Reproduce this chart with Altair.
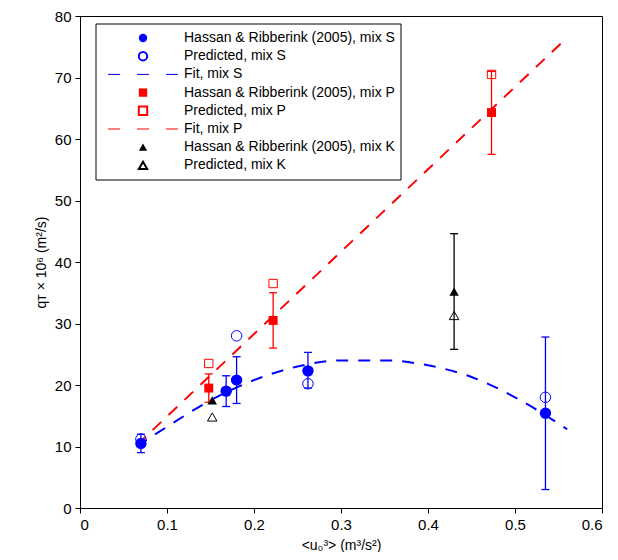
import altair as alt
import pandas as pd

# measured, mix S
s_x = [0.07, 0.168, 0.18, 0.262, 0.535]
s_y = [10.5, 19.0, 20.8, 22.3, 15.4]
s_lo = [9.0, 16.5, 17.0, 19.5, 3.0]
s_hi = [12.0, 21.5, 24.6, 25.3, 27.8]
# predicted, mix S
ps_x = [0.07, 0.18, 0.262, 0.535]
ps_y = [11.2, 28.0, 20.2, 18.0]
# measured, mix P
p_x = [0.148, 0.222, 0.473]
p_y = [19.5, 30.5, 64.3]
p_lo = [17.2, 26.0, 57.5]
p_hi = [21.8, 35.0, 71.0]
# predicted, mix P
pp_x = [0.148, 0.222, 0.473]
pp_y = [23.5, 36.5, 70.5]
# measured, mix K
k_x = [0.152, 0.43]
k_y = [17.5, 35.2]
k_lo = [17.5, 25.8]
k_hi = [17.5, 44.6]
# predicted, mix K
pk_x = [0.152, 0.43]
pk_y = [14.8, 31.3]
# fit curves
fs_x = [0.065, 0.1, 0.15, 0.2, 0.25, 0.3, 0.35, 0.4, 0.45, 0.5, 0.56]
fs_y = [10.0, 13.2, 17.5, 20.8, 23.0, 24.0, 24.0, 23.2, 21.3, 18.0, 12.8]
fp_x = [0.065, 0.56]
fp_y = [10.2, 76.5]

BLUE, RED = "#0000ff", "#ff0000"
DASH = [12, 10]
FONT = "Liberation Sans"
xs = alt.Scale(domain=[0, 0.6])
ys = alt.Scale(domain=[0, 80])
X = alt.X("x:Q", scale=xs, title="<u₀³> (m³/s²)",
          axis=alt.Axis(values=[0, 0.1, 0.2, 0.3, 0.4, 0.5, 0.6], format=".1~f", grid=False))
Y = alt.Y("y:Q", scale=ys, title="qᴛ × 10⁶ (m²/s)",
          axis=alt.Axis(values=list(range(0, 81, 10)), grid=False))


def df(x, y, **kw):
    d = pd.DataFrame({"x": x, "y": y})
    for k, v in kw.items():
        d[k] = v
    return d


def errbars(x, lo, hi, color):
    d = df(x, lo, hi=hi)
    rule = alt.Chart(d).mark_rule(color=color, strokeWidth=1.3, opacity=1).encode(x=X, y=Y, y2="hi:Q")
    cap1 = alt.Chart(d).mark_tick(color=color, orient="horizontal", size=8, thickness=1.3, opacity=1).encode(x=X, y=Y)
    cap2 = alt.Chart(d).mark_tick(color=color, orient="horizontal", size=8, thickness=1.3, opacity=1).encode(
        x=X, y=alt.Y("hi:Q", scale=ys))
    return rule + cap1 + cap2


def pts(x, y, shape, color, filled, size):
    return alt.Chart(df(x, y)).mark_point(shape=shape, color=color, filled=filled, size=size,
                                          opacity=1, strokeWidth=1).encode(x=X, y=Y)


fit_s = alt.Chart(df(fs_x, fs_y)).mark_line(color=BLUE, strokeDash=DASH, interpolate="monotone").encode(x=X, y=Y)
fit_p = alt.Chart(df(fp_x, fp_y)).mark_line(color=RED, strokeDash=DASH).encode(x=X, y=Y)

layers = [fit_s, fit_p,
          errbars(s_x, s_lo, s_hi, BLUE), errbars(p_x, p_lo, p_hi, RED), errbars(k_x[1:], k_lo[1:], k_hi[1:], "black"),
          pts(s_x, s_y, "circle", BLUE, True, 130), pts(ps_x, ps_y, "circle", BLUE, False, 110),
          pts(p_x, p_y, "square", RED, True, 80), pts(pp_x, pp_y, "square", RED, False, 70),
          pts(k_x, k_y, "triangle-up", "black", True, 90), pts(pk_x, pk_y, "triangle-up", "black", False, 90)]

# legend
labels = ["Hassan & Ribberink (2005), mix S", "Predicted, mix S", "Fit, mix S",
          "Hassan & Ribberink (2005), mix P", "Predicted, mix P", "Fit, mix P",
          "Hassan & Ribberink (2005), mix K", "Predicted, mix K"]
kinds = [("circle", BLUE, True), ("circle", BLUE, False), ("line", BLUE, None),
         ("square", RED, True), ("square", RED, False), ("line", RED, None),
         ("triangle-up", "black", True), ("triangle-up", "black", False)]
base = alt.Chart(pd.DataFrame({"a": [0]}))
box = base.mark_rect(fill="white", stroke="black", strokeWidth=1).encode(
    x=alt.value(16), x2=alt.value(321), y=alt.value(8), y2=alt.value(164))
layers.append(box)
for i, (lab, (shape, col, filled)) in enumerate(zip(labels, kinds)):
    yy = 22 + i * 18.2
    if shape == "line":
        layers.append(base.mark_rule(color=col, strokeDash=[12, 17]).encode(
            x=alt.value(28), x2=alt.value(98), y=alt.value(yy)))
    else:
        layers.append(base.mark_point(shape=shape, color=col, filled=filled, size=70, opacity=1).encode(
            x=alt.value(63), y=alt.value(yy)))
    layers.append(base.mark_text(text=lab, align="left", baseline="middle", fontSize=14,
                                 font=FONT).encode(x=alt.value(104), y=alt.value(yy)))

chart = alt.layer(*layers).properties(
    width=522, height=492, autosize="none",
    padding={"left": 72, "top": 8, "right": 8, "bottom": 44},
).configure_view(stroke="black", strokeWidth=1).configure_axis(
    domainColor="black", tickColor="black", labelColor="black", titleColor="black",
    labelFont=FONT, titleFont=FONT, labelFontSize=15, titleFontSize=14,
    titleFontWeight="normal", labelPadding=4, titlePadding=6,
)
chart.save("out.html", embed_options={"renderer": "svg", "actions": False})
